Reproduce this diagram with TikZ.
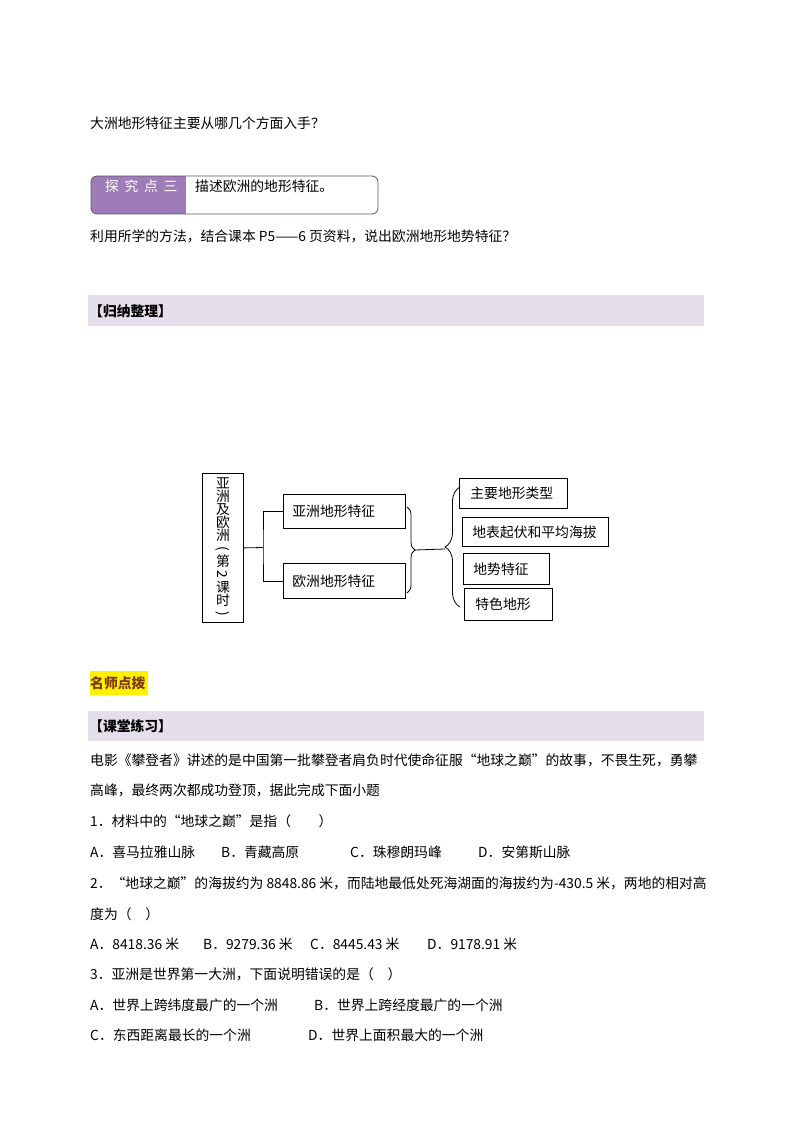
\documentclass[tikz,border=0pt]{standalone}
\usepackage{fontspec}
\setmainfont{Noto Sans CJK SC}
\usepackage{tikz}
\usetikzlibrary{decorations.pathreplacing}
\definecolor{tanpurple}{RGB}{158,124,184}
\definecolor{tanedge}{RGB}{96,84,112}
\definecolor{bandpurple}{RGB}{229,223,236}
\definecolor{tipbrown}{RGB}{128,58,10}

\begin{document}
\begin{tikzpicture}[x=1pt, y=-1pt,
  every node/.style={font=\fontsize{13.8pt}{16pt}\selectfont},
  txt/.style={anchor=base west, inner sep=0pt},
  box/.style={draw, line width=0.8pt, anchor=north west, inner xsep=10pt, inner ysep=0pt, align=left},
  brace/.style={decorate, line width=0.8pt, decoration={brace, amplitude=#1}}]
\useasboundingbox[fill=white] (0,0) rectangle (794,1123);
% questions above
\node[txt] (lead) at (90,129) {大洲地形特征主要从哪几个方面入手？};
\begin{scope}
\clip[rounded corners=6pt] (91,176) rectangle (378,214);
\fill[tanpurple] (91,176) rectangle (186,214);
\end{scope}
\draw[tanedge, line width=0.8pt, rounded corners=6pt] (91,176) rectangle (378,214);
\node[txt, text=white] (tanlabel) at (105,192) {探\hspace{5.7pt}究\hspace{5.7pt}点\hspace{5.7pt}三};
\node[txt] (tantask) at (195,192) {描述欧洲的地形特征。};
\node[txt] (method) at (90,241) {利用所学的方法，结合课本 P5——6 页资料，说出欧洲地形地势特征？};
% summary band
\fill[bandpurple] (88,295) rectangle (704,326);
\node[txt, font=\fontsize{13.8pt}{16pt}\selectfont\bfseries] (sumtitle) at (89,316) {【归纳整理】};
% mind map
\node[draw, line width=0.8pt, anchor=north west, minimum width=41pt, minimum height=149pt, inner sep=0pt, align=center,
  font={\fontsize{13.8pt}{13pt}\selectfont\lineskiplimit=-10pt}] (title) at (202,473)
  {亚\\洲\\及\\欧\\洲\\\rotatebox[origin=c]{-90}{(}\\第\\\rotatebox[origin=c]{-90}{2}\\课\\时\\\rotatebox[origin=c]{-90}{)}};
\node[box, inner xsep=9pt, text width=104pt, minimum height=34pt] (asia) at (283,494) {亚洲地形特征};
\node[box, inner xsep=9pt, text width=104pt, minimum height=35pt] (euro) at (283,563) {欧洲地形特征};
\node[box, inner xsep=11pt, text width=86pt, minimum height=30pt] (types) at (459,478) {主要地形类型};
\node[box, text width=126pt, minimum height=29pt] (relief) at (462,517) {地表起伏和平均海拔};
\node[box, text width=66pt, minimum height=31pt] (trend) at (463,553) {地势特征};
\node[box, inner xsep=11pt, text width=66pt, minimum height=32pt] (special) at (464,588) {特色地形};
\coordinate (jn) at (263,547.5);
\draw[line width=0.8pt] (title.east) -- (jn);
\draw[line width=0.8pt] (asia.west) -| (jn) |- (euro.west);
\draw[brace=8pt] (407,507) -- (407,593);
\draw[brace=15pt] (460,607) -- (460,487);
\coordinate (tipR) at (415,550);
\coordinate (tipL) at (445,549);
\draw[line width=0.8pt] (tipR) -- (tipL);
% tips
\fill[yellow] (90,671) rectangle (148,695);
\node[txt, text=tipbrown, font=\fontsize{13.8pt}{16pt}\selectfont\bfseries] (tips) at (90,688) {名师点拨};
% practice band
\fill[bandpurple] (88,711) rectangle (704,741);
\node[txt, font=\fontsize{13.8pt}{16pt}\selectfont\bfseries] (practice) at (89,731) {【课堂练习】};
\node[txt] (intro1) at (90,765) {电影《攀登者》讲述的是中国第一批攀登者肩负时代使命征服“地球之巅”的故事，不畏生死，勇攀};
\node[txt] (intro2) at (90,795) {高峰，最终两次都成功登顶，据此完成下面小题};
\node[txt] (q1) at (90,826) {1．材料中的“地球之巅”是指（　　）};
\node[txt] (q1a) at (90,857) {A．喜马拉雅山脉};
\node[txt] (q1b) at (221,857) {B．青藏高原};
\node[txt] (q1c) at (350,857) {C．珠穆朗玛峰};
\node[txt] (q1d) at (478,857) {D．安第斯山脉};
\node[txt] (q2) at (90,888) {2．“地球之巅”的海拔约为 8848.86 米，而陆地最低处死海湖面的海拔约为-430.5 米，两地的相对高};
\node[txt] (q2x) at (90,919) {度为（　）};
\node[txt] (q2a) at (90,949) {A．8418.36 米};
\node[txt] (q2b) at (203,949) {B．9279.36 米};
\node[txt] (q2c) at (310,949) {C．8445.43 米};
\node[txt] (q2d) at (427,949) {D．9178.91 米};
\node[txt] (q3) at (90,979) {3．亚洲是世界第一大洲，下面说明错误的是（　）};
\node[txt] (q3a) at (90,1010) {A．世界上跨纬度最广的一个洲};
\node[txt] (q3b) at (314,1010) {B．世界上跨经度最广的一个洲};
\node[txt] (q3c) at (90,1040) {C．东西距离最长的一个洲};
\node[txt] (q3d) at (308,1040) {D．世界上面积最大的一个洲};
\end{tikzpicture}
\end{document}
